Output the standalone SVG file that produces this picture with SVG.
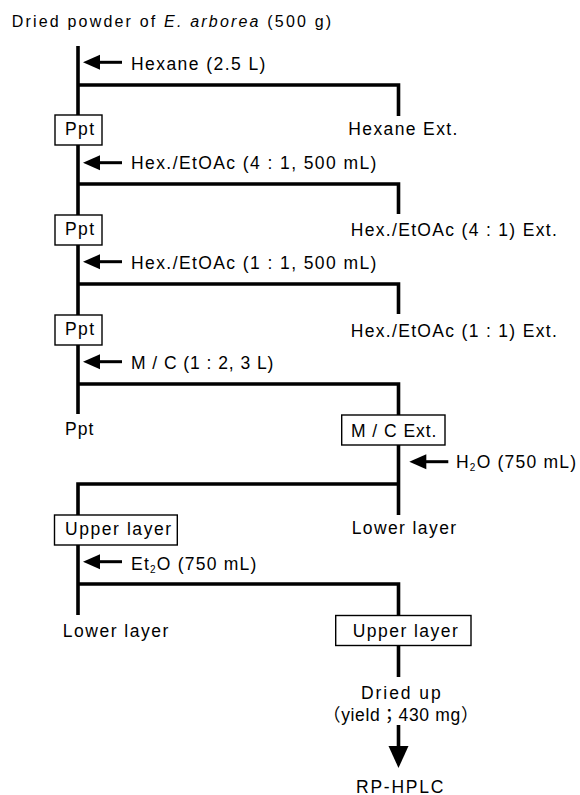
<svg xmlns="http://www.w3.org/2000/svg" width="580" height="795" viewBox="0 0 580 795">
<style>
text{font-family:"Liberation Sans",Arial,"Noto Sans CJK JP",sans-serif;font-size:17.5px;fill:#000;letter-spacing:1.6px}
.title{font-size:16px}
.box{fill:#fff;stroke:#000;stroke-width:1.4}
.ln{fill:none;stroke:#000;stroke-width:3.6;stroke-linejoin:miter}
.sub{font-size:10px}
</style>
<defs>
<g id="larr">
<polygon points="0,0 17,-7.5 17,7.5" fill="#000"/>
<line x1="15" y1="0" x2="39" y2="0" stroke="#000" stroke-width="3"/>
</g>
</defs>
<g id="connectors">
<path class="ln" d="M78 46 V115"/>
<path class="ln" d="M78 85 H398.5 V116"/>
<path class="ln" d="M78 145 V215"/>
<path class="ln" d="M78 184 H398.5 V214"/>
<path class="ln" d="M78 245 V315"/>
<path class="ln" d="M78 284 H398.5 V314"/>
<path class="ln" d="M78 345 V414"/>
<path class="ln" d="M78 384 H398.5 V415"/>
<path class="ln" d="M398.5 445 V515"/>
<path class="ln" d="M398.5 484 H78 V515"/>
<path class="ln" d="M78 545 V615"/>
<path class="ln" d="M78 584 H398.5 V615.5"/>
<path class="ln" d="M398.5 645.5 V677"/>
<path class="ln" d="M398.5 725 V750"/>
<polygon points="388.5,746 408.5,746 398.5,768" fill="#000"/>
<use href="#larr" transform="translate(83,62.3)"/>
<use href="#larr" transform="translate(83,162.7)"/>
<use href="#larr" transform="translate(83,261.7)"/>
<use href="#larr" transform="translate(83,361.7)"/>
<use href="#larr" transform="translate(409.3,461.7)"/>
<use href="#larr" transform="translate(83,561.7)"/>
</g>
<g id="title"><text class="title" x="11.7" y="27" textLength="321">Dried powder of <tspan font-style="italic">E. arborea</tspan> (500 g)</text></g>
<g id="lbl-hexane"><text x="131" y="69.5" textLength="136">Hexane (2.5 L)</text></g>
<g id="ppt1"><rect class="box" x="55" y="115" width="47" height="30"/><text x="65" y="134.5" textLength="30.7">Ppt</text></g>
<g id="hexane-ext"><text x="348.3" y="135" textLength="110.7">Hexane Ext.</text></g>
<g id="lbl-hex41"><text x="131" y="169" textLength="247">Hex./EtOAc (4 : 1, 500 mL)</text></g>
<g id="ppt2"><rect class="box" x="55" y="215" width="47" height="30"/><text x="65" y="234.5" textLength="30.7">Ppt</text></g>
<g id="hex41-ext"><text x="350.7" y="236" textLength="207.7">Hex./EtOAc (4 : 1) Ext.</text></g>
<g id="lbl-hex11"><text x="131" y="268.5" textLength="247">Hex./EtOAc (1 : 1, 500 mL)</text></g>
<g id="ppt3"><rect class="box" x="55" y="315" width="47" height="30"/><text x="65" y="334.5" textLength="30.7">Ppt</text></g>
<g id="hex11-ext"><text x="350.7" y="337" textLength="207.7">Hex./EtOAc (1 : 1) Ext.</text></g>
<g id="lbl-mc"><text x="131" y="369" textLength="144">M / C (1 : 2, 3 L)</text></g>
<g id="ppt4"><text x="65" y="435" textLength="30">Ppt</text></g>
<g id="mc-ext"><rect class="box" x="341.7" y="415" width="103.3" height="30"/><text x="351" y="436.5" textLength="87">M / C Ext.</text></g>
<g id="lbl-h2o"><text x="456" y="468" textLength="121.7">H<tspan class="sub" dy="3">2</tspan><tspan dy="-3">O (750 mL)</tspan></text></g>
<g id="upper1"><rect class="box" x="54.5" y="515" width="122.8" height="30"/><text x="65" y="535" textLength="107.7">Upper layer</text></g>
<g id="lower1"><text x="351.7" y="534" textLength="106">Lower layer</text></g>
<g id="lbl-et2o"><text x="131" y="569.5" textLength="127">Et<tspan class="sub" dy="3">2</tspan><tspan dy="-3">O (750 mL)</tspan></text></g>
<g id="lower2"><text x="62.7" y="636.5" textLength="107.3">Lower layer</text></g>
<g id="upper2"><rect class="box" x="335.7" y="615.5" width="135.3" height="30"/><text x="352.7" y="636.5" textLength="106.7">Upper layer</text></g>
<g id="dried"><text x="361" y="699" textLength="81.3">Dried up</text><text x="323" y="721" textLength="157">（yield；430 mg）</text></g>
<g id="rphplc"><text x="356" y="792.5" textLength="89">RP-HPLC</text></g>
</svg>
